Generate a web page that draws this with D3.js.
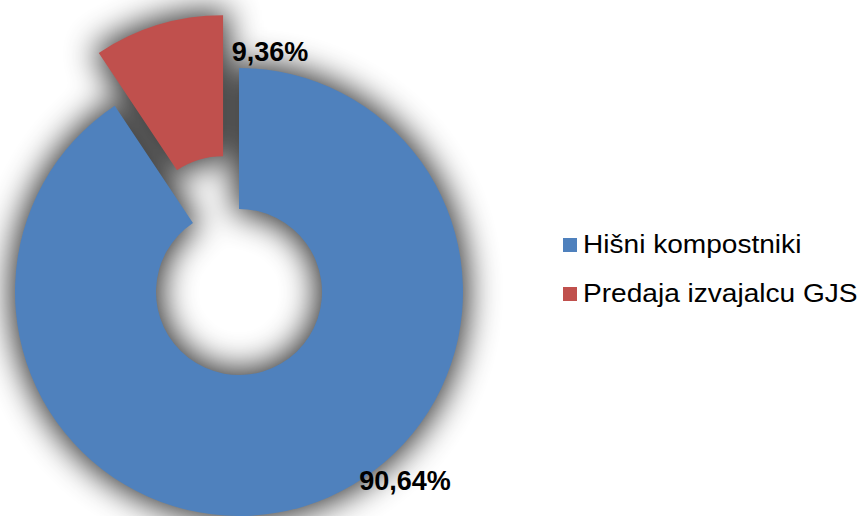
<!DOCTYPE html>
<html><head><meta charset="utf-8">
<script src="https://cdn.jsdelivr.net/npm/d3@7"></script>
<style>body{margin:0;background:#fff;}svg{display:block;}</style>
</head><body>
<svg id="c" width="862" height="516"></svg>
<script>
const categories = ["Hišni kompostniki", "Predaja izvajalcu GJS"];
const values = [90.64, 9.36];
const labels = ["90,64%", "9,36%"];
const colors = ["#4F81BD", "#C0504D"];

const svg = d3.select("#c");
const cx = 239, cy = 292, rOuter = 224, rInner = 83, explode = 55;

const defs = svg.append("defs");
defs.append("filter").attr("id","blur")
  .attr("filterUnits","userSpaceOnUse")
  .attr("x",-400).attr("y",-400).attr("width",800).attr("height",800)
  .append("feGaussianBlur").attr("stdDeviation",16);

const pie = d3.pie().sort(null).value(d => d)(values);
const arc = d3.arc().innerRadius(rInner).outerRadius(rOuter);
const shift = (d,i) => {
  if (i !== 1) return null;
  const a = (d.startAngle + d.endAngle)/2;
  return `translate(${explode*Math.sin(a)},${-explode*Math.cos(a)})`;
};

const root = svg.append("g").attr("transform",`translate(${cx},${cy})`);
root.append("g").attr("filter","url(#blur)").attr("opacity",0.8)
  .selectAll("path").data(pie).join("path")
  .attr("d", arc).attr("fill","#000").attr("stroke","#000").attr("stroke-width",10)
  .attr("transform", shift);
root.append("g").selectAll("path").data(pie).join("path")
  .attr("d", arc)
  .attr("fill", (d,i) => colors[i])
  .attr("transform", shift);

// data labels
const labelPos = [[405, 490], [270, 61]];
svg.selectAll("text.lbl").data(labels).join("text").attr("class","lbl")
  .attr("x",(d,i)=>labelPos[i][0]).attr("y",(d,i)=>labelPos[i][1])
  .attr("text-anchor","middle")
  .attr("font-family","Liberation Sans, Arial, sans-serif")
  .attr("font-weight","bold").attr("font-size",27).attr("fill","#000")
  .text(d=>d);

// legend
const lg = svg.append("g").attr("transform","translate(563,238)");
const items = lg.selectAll("g").data(categories).join("g")
  .attr("transform",(d,i)=>`translate(0,${i*49})`);
items.append("rect").attr("width",14).attr("height",14).attr("fill",(d,i)=>colors[i]);
items.append("text").attr("transform","translate(20,15) scale(1.08,1)")
  .attr("font-family","Liberation Sans, Arial, sans-serif")
  .attr("font-size",26).attr("fill","#000").text(d=>d);
</script>
</body></html>
